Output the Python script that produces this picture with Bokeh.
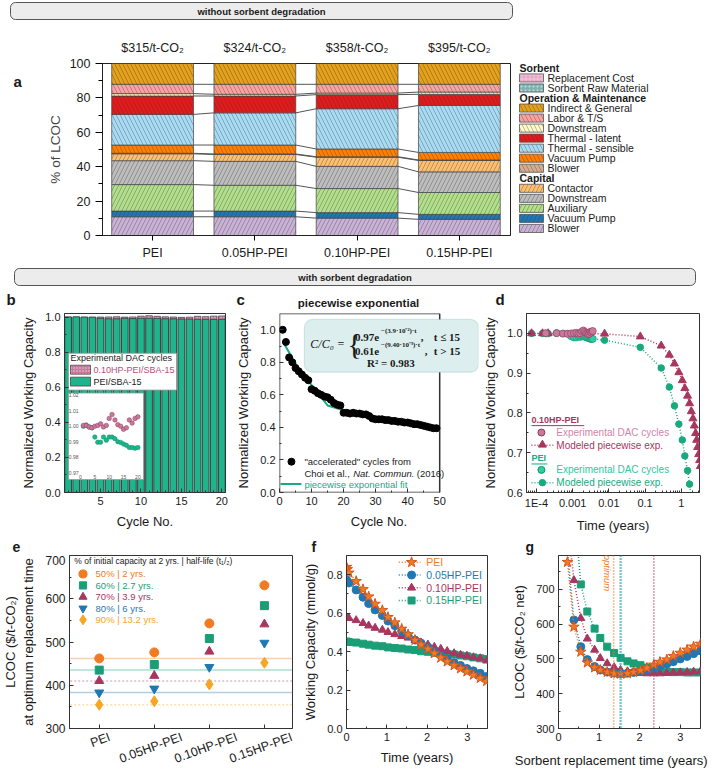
import numpy as np
from bokeh.plotting import figure
from bokeh.models import (Range1d, LinearScale, Label, FixedTicker, LinearAxis,
                          BoxAnnotation, Span, ColumnDataSource, PrintfTickFormatter)
from bokeh.layouts import column, row
from bokeh.embed import file_html
from bokeh.resources import INLINE
from bokeh.transform import stack

FONT = "Liberation Sans"
SERIF = "Liberation Serif"
INK = "#1a1a1a"

# ---------------------------------------------------------------- data
sorbents = ["PEI", "0.05HP-PEI", "0.10HP-PEI", "0.15HP-PEI"]
lcoc_no_degradation = [315, 324, 358, 395]

# panel a: % of LCOC (bottom -> top)
cap_blower = [10.9, 10.9, 10.1, 9.4]
cap_vacuum = [3.3, 3.3, 3.2, 2.9]
cap_auxiliary = [15.4, 15.0, 14.0, 12.7]
cap_downstream = [13.9, 13.9, 12.9, 12.0]
cap_contactor = [4.0, 4.0, 5.3, 6.6]
om_blower = [0.3, 0.3, 0.3, 0.3]
om_vacuum = [4.8, 5.2, 4.5, 4.4]
om_thermal_sensible = [17.8, 18.7, 23.4, 27.3]
om_thermal_latent = [10.7, 9.8, 8.2, 6.5]
om_downstream = [1.4, 1.0, 0.9, 1.3]
om_labor = [5.4, 5.8, 5.1, 4.5]
om_indirect = [12.1, 12.1, 12.1, 12.1]
sorbent_raw = [0.0, 0.0, 0.0, 0.0]
sorbent_replacement = [0.0, 0.0, 0.0, 0.0]

# panel b / inset: normalized working capacity over 20 DAC cycles
cycles = [1, 2, 3, 4, 5, 6, 7, 8, 9, 10, 11, 12, 13, 14, 15, 16, 17, 18, 19, 20]
cap_pei = [1.000, 1.0008, 0.9995, 0.999, 0.993, 0.9897, 0.9897, 0.993, 0.991, 0.993,
           0.993, 0.992, 0.990, 0.9896, 0.9885, 0.9877, 0.9863, 0.9863, 0.9859, 0.9863]
cap_hp10 = [1.0005, 1.0005, 0.9995, 0.999, 1.000, 1.0005, 1.0015, 0.9995, 1.0005, 1.005,
            1.0075, 1.004, 1.001, 1.000, 0.998, 0.999, 1.004, 1.002, 1.005, 1.006]

# panel c: accelerated cycles (Choi et al.) and piecewise exponential fit
acc_cycle = list(range(1, 50))
acc_cap = [1.0, 0.925, 0.83, 0.80, 0.765, 0.745, 0.725, 0.705, 0.69, 0.635,
           0.625, 0.61, 0.60, 0.59, 0.585, 0.57, 0.55, 0.54, 0.535, 0.49,
           0.49, 0.485, 0.49, 0.485, 0.485, 0.48, 0.48, 0.47, 0.455, 0.45,
           0.45, 0.45, 0.445, 0.445, 0.44, 0.44, 0.435, 0.435, 0.43, 0.43,
           0.425, 0.42, 0.42, 0.415, 0.41, 0.405, 0.40, 0.395, 0.395]
fit_cycle = [1, 3, 5, 8, 10, 12, 15, 20, 30, 40, 50]
fit_cap = [0.93, 0.86, 0.79, 0.71, 0.66, 0.61, 0.535, 0.505, 0.46, 0.42, 0.38]

# panel d: time axis (years)
exp_time = [0.00018, 0.00036, 0.00054, 0.00072, 0.0009, 0.00108, 0.00126, 0.00144, 0.00162, 0.0018,
            0.00198, 0.00216, 0.00234, 0.00252, 0.0027, 0.00288, 0.00306, 0.00324, 0.00342, 0.0036]
mod_time_hp = [7.3e-5, 1.47e-4, 2.1e-4, 0.0076, 0.074, 0.28, 0.47, 0.65, 0.86, 1.07, 1.26,
               1.5, 1.70, 1.90, 2.11, 2.30, 2.50, 2.67, 2.84, 3.03, 3.23, 3.37]
mod_cap_hp = [1.0, 1.0, 1.0, 0.999, 0.992, 0.969, 0.946, 0.924, 0.902, 0.882, 0.862,
              0.843, 0.824, 0.804, 0.786, 0.768, 0.749, 0.732, 0.714, 0.696, 0.681, 0.666]
mod_time_pei = [7.3e-5, 1.47e-4, 2.1e-4, 0.0076, 0.074, 0.28, 0.47, 0.65, 0.86, 1.07, 1.26, 1.5, 1.70, 1.90]
mod_cap_pei = [1.0, 1.0, 0.9995, 0.983, 0.965, 0.913, 0.865, 0.818, 0.772, 0.732, 0.692, 0.655, 0.621, 0.586]

# panel e: LCOC at optimum replacement time
lcoc_50 = [462, 476, 543, 631]
lcoc_60 = [435, 448, 508, 584]
lcoc_70 = [410, 422, 478, 541]
lcoc_80 = [383, 392, 442, 498]
lcoc_90 = [355, 363, 402, 452]

# panel f: working capacity vs time
time_f = [0.0, 0.02, 0.06, 0.24, 0.41, 0.55, 0.71, 0.89, 1.03, 1.2, 1.37, 1.53,
          1.7, 1.85, 2.02, 2.18, 2.34, 2.5, 2.67, 2.83, 2.99, 3.15, 3.32, 3.48]
wc_pei = [0.84, 0.828, 0.81, 0.766, 0.724, 0.686, 0.648, 0.615, 0.579, 0.551, 0.518, 0.489,
          0.46, 0.436, 0.414, 0.391, 0.368, 0.348, 0.328, 0.312, 0.296, 0.279, 0.262, 0.246]
wc_hp05 = [0.774, 0.765, 0.757, 0.721, 0.683, 0.65, 0.617, 0.588, 0.559, 0.535, 0.506, 0.483,
           0.46, 0.444, 0.424, 0.40, 0.381, 0.361, 0.342, 0.328, 0.312, 0.30, 0.287, 0.271]
wc_hp10 = [0.579, 0.577, 0.574, 0.563, 0.548, 0.535, 0.523, 0.513, 0.501, 0.49, 0.48, 0.472,
           0.46, 0.447, 0.436, 0.424, 0.414, 0.402, 0.391, 0.383, 0.378, 0.37, 0.365, 0.353]
wc_hp15 = [0.452, 0.451, 0.45, 0.447, 0.441, 0.436, 0.431, 0.428, 0.422, 0.419, 0.416, 0.411,
           0.408, 0.402, 0.399, 0.394, 0.391, 0.388, 0.385, 0.38, 0.376, 0.37, 0.365, 0.361]

# panel g: LCOC vs sorbent replacement time
time_g = [0.22, 0.38, 0.55, 0.71, 0.89, 1.03, 1.2, 1.37, 1.53, 1.7, 1.85,
          2.02, 2.18, 2.35, 2.5, 2.67, 2.83, 3.0, 3.17, 3.33, 3.5]
lc_pei = [778, 592, 520, 489, 475, 468, 462, 458, 457, 458, 462,
          467, 474, 483, 491, 498, 508, 517, 526, 535, 543]
lc_hp05 = [810, 612, 535, 498, 478, 468, 462, 459, 458, 459, 461,
           464, 468, 473, 479, 485, 492, 500, 507, 515, 523]
lc_hp10 = [900, 726, 617, 558, 526, 502, 487, 476, 468, 464, 461,
           459, 458, 458, 458, 459, 460, 461, 462, 463, 464]
lc_hp15 = [1300, 950, 714, 636, 587, 560, 535, 517, 503, 493, 487,
           482, 475, 468, 465, 463, 462, 462, 461, 461, 461]
optimum_time = [1.36, 1.52, 2.35, 1.55]

# ---------------------------------------------------------------- colours
C_OR, C_BL, C_PU, C_GR, C_GO = "#f07b22", "#1f78b4", "#a8365f", "#1a9e77", "#f5a623"
GREEN_B, PINK_B = "#1fb48c", "#c8799b"

layers = [
    ("cap_blower", cap_blower, "#cab2d6", "/"),
    ("cap_vacuum", cap_vacuum, "#1f78b4", "/"),
    ("cap_auxiliary", cap_auxiliary, "#b2df8a", "/"),
    ("cap_downstream", cap_downstream, "#bdbdbd", "/"),
    ("cap_contactor", cap_contactor, "#fdbf6f", "/"),
    ("om_blower", om_blower, "#d8ab8c", "\\"),
    ("om_vacuum", om_vacuum, "#ff7f00", "\\"),
    ("om_thermal_sensible", om_thermal_sensible, "#a8dcf5", "\\"),
    ("om_thermal_latent", om_thermal_latent, "#e31a1c", "\\"),
    ("om_downstream", om_downstream, "#fdfac5", "\\"),
    ("om_labor", om_labor, "#f9a3a0", "\\"),
    ("om_indirect", om_indirect, "#e5a11a", "\\"),
    ("sorbent_raw", sorbent_raw, "#7fb2b2", "."),
    ("sorbent_replacement", sorbent_replacement, "#e8a6c6", "+"),
]
layer_color = {n: c for n, _, c, _ in layers}
layer_hatch = {n: h for n, _, _, h in layers}


# ---------------------------------------------------------------- helpers
def make_fig(X0, Y0, W, H, fl, ft, fw, fh, xr, yr, x_axis_type="linear"):
    p = figure(width=W, height=H, x_range=xr, y_range=yr, x_axis_type=x_axis_type,
               output_backend="svg", toolbar_location=None, title=None,
               min_border_left=fl, min_border_right=W - fl - fw,
               min_border_top=ft, min_border_bottom=H - ft - fh)
    p.extra_x_ranges = {"px": Range1d(X0 + fl, X0 + fl + fw)}
    p.extra_y_ranges = {"px": Range1d(Y0 + ft + fh, Y0 + ft)}
    p.extra_x_scales = {"px": LinearScale()}
    p.extra_y_scales = {"px": LinearScale()}
    p.xgrid.visible = False
    p.ygrid.visible = False
    p.outline_line_color = "#333333"
    p.outline_line_width = 1
    p.border_fill_color = "white"
    return p


def plain_fig(W, H, xr, yr):
    p = figure(width=W, height=H, x_range=xr, y_range=yr, output_backend="svg",
               toolbar_location=None, title=None, min_border=0,
               x_axis_location=None, y_axis_location=None)
    p.xgrid.visible = False
    p.ygrid.visible = False
    p.outline_line_color = None
    return p


def lab(p, x, y, text, size=11, color=INK, style="normal", align="left",
        baseline="middle", angle=0.0, font=FONT, xr="px", yr="px"):
    kw = dict(x=x, y=y, text=text, text_font=font, text_font_size=f"{size}px",
              text_color=color, text_font_style=style, text_align=align,
              text_baseline=baseline, angle=angle)
    if xr:
        kw["x_range_name"] = xr
    if yr:
        kw["y_range_name"] = yr
    p.add_layout(Label(**kw))


def style_axes(p, xlabel, ylabel, xticks, yticks, xminor=(), yminor=(), lab_size=11):
    p.xaxis.ticker = FixedTicker(ticks=list(xticks), minor_ticks=list(xminor))
    p.yaxis.ticker = FixedTicker(ticks=list(yticks), minor_ticks=list(yminor))
    for ax in (p.xaxis[0], p.yaxis[0]):
        ax.major_label_text_font = FONT
        ax.major_label_text_font_size = f"{lab_size}px"
        ax.major_label_text_color = INK
        ax.axis_label_text_font = FONT
        ax.axis_label_text_font_size = "13px"
        ax.axis_label_text_font_style = "normal"
        ax.axis_label_text_color = INK
        ax.major_tick_in = 4
        ax.major_tick_out = 0
        ax.minor_tick_in = 2
        ax.minor_tick_out = 0
        ax.axis_line_color = "#333333"
        ax.major_tick_line_color = "#333333"
        ax.minor_tick_line_color = "#333333"
        ax.major_label_standoff = 4
        ax.axis_label_standoff = 6
    p.xaxis.axis_label = xlabel
    p.yaxis.axis_label = ylabel


def letter(p, x, y, t, size=15):
    lab(p, x, y, t, size=size, style="bold", xr=None, yr=None)


# ---------------------------------------------------------------- banners / strips
def banner(y0, y1, ytop, ybot, x0, x1, text):
    p = plain_fig(711, 28, Range1d(0, 711), Range1d(ybot, ytop))
    p.quad(left=x0, right=x1, top=y0, bottom=y1, fill_color="#ececec",
           line_color="#555555", line_width=1, border_radius=5)
    lab(p, (x0 + x1) / 2, (y0 + y1) / 2 + 0.5, text, size=9.5, style="bold",
        align="center", xr=None, yr=None)
    return p


ban1 = banner(2, 19, 0, 28, 10, 512, "without sorbent degradation")
ban2 = banner(268, 285, 262, 290, 14, 695, "with sorbent degradation")

strip_a = plain_fig(30, 234, Range1d(0, 30), Range1d(262, 28))
letter(strip_a, 13, 52, "a")

strip_bcd = plain_fig(711, 19, Range1d(0, 711), Range1d(309, 290))
letter(strip_bcd, 6, 299, "b")
letter(strip_bcd, 236, 299, "c")
letter(strip_bcd, 495, 299, "d")
lab(strip_bcd, 358, 302, "piecewise exponential", size=11.5, style="bold", align="center",
    xr=None, yr=None)

strip_efg = plain_fig(711, 18, Range1d(0, 711), Range1d(555, 537))
letter(strip_efg, 12, 546, "e", size=14)
letter(strip_efg, 311, 546, "f", size=14)
letter(strip_efg, 525, 546, "g", size=14)

# ---------------------------------------------------------------- panel a
A = make_fig(30, 28, 485, 234, 72, 35, 408, 172, Range1d(-0.49, 3.5), Range1d(0, 100))
A.outline_line_color = "#222222"
xpos = [0, 1, 2, 3]
srcA = ColumnDataSource(dict(x=xpos, **{n: v for n, v, _, _ in layers}))
names = [n for n, _, _, _ in layers]
for i, (n, vals, col, hat) in enumerate(layers):
    if sum(vals) == 0:
        continue
    bottom = stack(*names[:i]) if i > 0 else 0
    A.vbar(x="x", width=0.8, bottom=bottom, top=stack(*names[:i + 1]), source=srcA,
           fill_color=col, line_color="#444444", line_width=0.7,
           hatch_pattern=hat, hatch_color="#333333", hatch_alpha=0.55,
           hatch_scale=8, hatch_weight=0.6)
cum = np.cumsum(np.array([v for _, v, _, _ in layers]), axis=0)
sx0, sx1, sy0, sy1 = [], [], [], []
for k in range(11):
    for i in range(3):
        sx0.append(xpos[i] + 0.4)
        sx1.append(xpos[i + 1] - 0.4)
        sy0.append(cum[k, i])
        sy1.append(cum[k, i + 1])
A.segment(x0=sx0, x1=sx1, y0=sy0, y1=sy1, line_color="#555555", line_width=1)

A.yaxis.ticker = FixedTicker(ticks=[0, 20, 40, 60, 80, 100], minor_ticks=[10, 30, 50, 70, 90])
A.xaxis.ticker = FixedTicker(ticks=xpos)
A.xaxis.major_label_overrides = {i: s for i, s in zip(xpos, sorbents)}
for ax in (A.xaxis[0], A.yaxis[0]):
    ax.major_label_text_font = FONT
    ax.major_label_text_font_size = "12.5px"
    ax.major_label_text_color = INK
    ax.axis_label_text_font = FONT
    ax.axis_label_text_font_size = "13.5px"
    ax.axis_label_text_font_style = "normal"
    ax.axis_line_color = "#222222"
    ax.major_tick_in = 0
    ax.minor_tick_in = 0
A.yaxis.major_tick_out = 7
A.yaxis.minor_tick_out = 4
A.xaxis.major_tick_out = 5
A.yaxis.major_label_standoff = 5
A.xaxis.major_label_standoff = 5
A.yaxis.axis_label = "% of LCOC"
A.yaxis.axis_label_standoff = 4
top_axis = LinearAxis(ticker=FixedTicker(ticks=xpos),
                      major_label_overrides={i: f"${v}/t-CO₂" for i, v in zip(xpos, lcoc_no_degradation)},
                      major_tick_line_color=None, minor_tick_line_color=None,
                      axis_line_color=None, major_label_standoff=3,
                      major_label_text_font=FONT, major_label_text_font_size="12.5px",
                      major_label_text_color=INK)
A.add_layout(top_axis, "above")

# legend for panel a
LEG = plain_fig(196, 234, Range1d(515, 711), Range1d(262, 28))
leg_rows = [
    ("head", "Sorbent", None),
    ("item", "Replacement Cost", "sorbent_replacement"),
    ("item", "Sorbent Raw Material", "sorbent_raw"),
    ("head", "Operation & Maintenance", None),
    ("item", "Indirect & General", "om_indirect"),
    ("item", "Labor & T/S", "om_labor"),
    ("item", "Downstream", "om_downstream"),
    ("item", "Thermal - latent", "om_thermal_latent"),
    ("item", "Thermal - sensible", "om_thermal_sensible"),
    ("item", "Vacuum Pump", "om_vacuum"),
    ("item", "Blower", "om_blower"),
    ("head", "Capital", None),
    ("item", "Contactor", "cap_contactor"),
    ("item", "Downstream", "cap_downstream"),
    ("item", "Auxiliary", "cap_auxiliary"),
    ("item", "Vacuum Pump", "cap_vacuum"),
    ("item", "Blower", "cap_blower"),
]
for k, (kind, text, key) in enumerate(leg_rows):
    yy = 34 + 13.65 * k
    if kind == "head":
        lab(LEG, 519, yy, text, size=10.5, style="bold", xr=None, yr=None)
    else:
        hat = layer_hatch[key]
        LEG.quad(left=519, right=543, top=yy - 5.5, bottom=yy + 5.5,
                 fill_color=layer_color[key], line_color="#555555", line_width=0.8,
                 hatch_pattern=hat, hatch_color="#333333" if hat in "/\\" else "#ffffff",
                 hatch_alpha=0.55, hatch_scale=8 if hat in "/\\" else 4, hatch_weight=0.6)
        lab(LEG, 547, yy, text, size=10.5, xr=None, yr=None)

ONE_DEC = PrintfTickFormatter(format="%.1f")

# ---------------------------------------------------------------- panel b
B = make_fig(0, 309, 233, 228, 64, 4, 161, 180, Range1d(0.55, 20.45), Range1d(0, 1.02))
B.vbar(x=cycles, top=cap_hp10, width=0.82, fill_color=PINK_B, line_color="#222222",
       line_width=0.6, hatch_pattern=".", hatch_color="#f2d0de", hatch_scale=3)
B.vbar(x=cycles, top=cap_pei, width=0.82, fill_color=GREEN_B, line_color="#222222", line_width=0.6)
style_axes(B, "Cycle No.", "Normalized Working Capacity", [5, 10, 15, 20],
           [0, 0.2, 0.4, 0.6, 0.8, 1.0], xminor=range(1, 21), yminor=[0.1, 0.3, 0.5, 0.7, 0.9])
B.yaxis.formatter = PrintfTickFormatter(format="%.1f")


def lin_range(p0, v0, p1, v1, q0, q1):
    s = (v1 - v0) / (p1 - p0)
    return Range1d(v0 + (q0 - p0) * s, v0 + (q1 - p0) * s)


B.extra_x_ranges = {**B.extra_x_ranges, "ix": lin_range(79, -0.35, 143, 21.95, 64, 225)}
B.extra_y_ranges = {**B.extra_y_ranges, "iy": lin_range(395, 1.02, 473.3, 0.97, 493, 313)}
B.extra_x_scales = {**B.extra_x_scales, "ix": LinearScale()}
B.extra_y_scales = {**B.extra_y_scales, "iy": LinearScale()}
# inset
B.quad(left=68, right=143, top=393, bottom=480, fill_color="white", line_color="#999999",
       line_width=0.8, x_range_name="px", y_range_name="px")
for v in [0.97, 0.98, 0.99, 1.00, 1.01, 1.02]:
    lab(B, 78, v, f"{v:.2f}", size=5, color="#555555", align="right", yr="iy")
for v in [0, 5, 10, 15, 20]:
    lab(B, v, 477, str(v), size=5, color="#555555", align="center", xr="ix")
B.scatter(x=cycles, y=cap_pei, size=4.5, fill_color=GREEN_B, line_color="#13906d",
          line_width=0.5, x_range_name="ix", y_range_name="iy")
B.scatter(x=cycles, y=cap_hp10, size=4.5, fill_color=PINK_B, line_color="#8e3a5e",
          line_width=0.5, x_range_name="ix", y_range_name="iy")
# legend box
B.quad(left=68, right=176, top=353, bottom=390, fill_color="white", line_color="#999999",
       line_width=0.8, x_range_name="px", y_range_name="px")
lab(B, 70, 358, "Experimental DAC cycles", size=9)
B.quad(left=70, right=90, top=365, bottom=374, fill_color=PINK_B, line_color="#222222",
       line_width=0.6, hatch_pattern=".", hatch_color="#f2d0de", hatch_scale=3,
       x_range_name="px", y_range_name="px")
lab(B, 93, 369.5, "0.10HP-PEI/SBA-15", size=9, color="#b4507a")
B.quad(left=70, right=90, top=377, bottom=386, fill_color=GREEN_B, line_color="#222222",
       line_width=0.6, x_range_name="px", y_range_name="px")
lab(B, 93, 381.5, "PEI/SBA-15", size=9)

# ---------------------------------------------------------------- panel c
# frame is widened to x=478 so that the equation box may overhang the axes box
C = make_fig(233, 309, 247, 228, 45, 4, 200, 180, Range1d(0, 62.11), Range1d(0, 1.1))
C.outline_line_color = None
C.quad(left=0, right=50, bottom=0, top=1.1, fill_color=None, line_color="#333333", line_width=1.5)
C.line(x=fit_cycle, y=fit_cap, line_color="#1aa88a", line_width=2)
C.scatter(x=acc_cycle, y=acc_cap, size=7, fill_color="black", line_color="black")
style_axes(C, "Cycle No.", "Normalized Working Capacity", [0, 10, 20, 30, 40, 50],
           [0, 0.2, 0.4, 0.6, 0.8, 1.0], xminor=[5, 15, 25, 35, 45], yminor=[0.1, 0.3, 0.5, 0.7, 0.9])
C.yaxis.formatter = PrintfTickFormatter(format="%.1f")
C.xaxis.axis_line_color = None
C.yaxis.axis_line_color = None
C.add_layout(BoxAnnotation(left=303, right=478, top=319, bottom=372, x_range_name="px",
                           y_range_name="px", fill_color="#dcefee", fill_alpha=1,
                           line_color="#7fb8b5", line_width=1.2, border_radius=8))
lab(C, 309, 344, "C/C₀ =", size=12, style="italic", font=SERIF)
lab(C, 346, 343, "{", size=30, font=SERIF)
lab(C, 354, 337, "0.97e", size=11, style="bold", font=SERIF)
lab(C, 380, 331, "−(3.9·10⁻²)·t", size=7, style="bold", font=SERIF)
lab(C, 420, 337, ",", size=11, style="bold", font=SERIF)
lab(C, 433, 337, "t ≤ 15", size=11, style="bold", font=SERIF)
lab(C, 354, 351, "0.61e", size=11, style="bold", font=SERIF)
lab(C, 380, 345, "−(9.40·10⁻³)·t", size=7, style="bold", font=SERIF)
lab(C, 424, 351, ",", size=11, style="bold", font=SERIF)
lab(C, 433, 351, "t > 15", size=11, style="bold", font=SERIF)
lab(C, 390, 363, "R² = 0.983", size=11, style="bold", font=SERIF, align="center")
C.scatter(x=[290], y=[462], size=7, fill_color="black", line_color="black",
          x_range_name="px", y_range_name="px")
lab(C, 303, 462, "\"accelerated\" cycles from", size=9.5)
lab(C, 303, 473.5, "Choi et al.,", size=9.5)
lab(C, 352, 473.5, "Nat. Commun.", size=9.5, style="italic")
lab(C, 416, 473.5, "(2016)", size=9.5)
C.line(x=[279, 300], y=[484.5, 484.5], line_color="#1aa88a", line_width=2,
       x_range_name="px", y_range_name="px")
lab(C, 303, 484.5, "piecewise exponential fit", size=9.5, color="#1aa88a")

# ---------------------------------------------------------------- panel d
D = make_fig(480, 309, 231, 228, 45, 1, 174, 182, Range1d(5.3e-5, 3.2), Range1d(0.6, 1.05),
             x_axis_type="log")
D.line(x=mod_time_pei, y=mod_cap_pei, line_color="#1aa87f", line_width=1.5, line_dash="1 2")
D.scatter(x=mod_time_pei, y=mod_cap_pei, size=6.5, fill_color="#1aa87f", line_color="#1aa87f")
D.line(x=mod_time_hp, y=mod_cap_hp, line_color=C_PU, line_width=1.5, line_dash="1 2")
D.scatter(x=mod_time_hp, y=mod_cap_hp, marker="triangle", size=8, fill_color=C_PU, line_color=C_PU)
D.scatter(x=exp_time, y=cap_pei, size=7, fill_color="#2ccfa4", line_color="#13906d", line_width=0.6)
D.scatter(x=exp_time, y=cap_hp10, size=7, fill_color="#c97a9c", line_color="#8e3a5e", line_width=0.6)
dminor = [m * 10.0 ** e for e in range(-5, 1) for m in range(2, 10)]
style_axes(D, "Time (years)", "Normalized Working Capacity", [1e-4, 1e-3, 1e-2, 1e-1, 1],
           [0.6, 0.7, 0.8, 0.9, 1.0], xminor=dminor, yminor=[0.65, 0.75, 0.85, 0.95, 1.05])
D.yaxis.formatter = PrintfTickFormatter(format="%.1f")
D.xaxis.major_label_overrides = {1e-4: "1E-4", 1e-3: "0.001", 1e-2: "0.01", 1e-1: "0.1", 1: "1"}
lab(D, 530, 418, "0.10HP-PEI", size=9, style="bold", color=C_PU)
D.line(x=[530, 583], y=[424, 424], line_color=C_PU, line_width=1, x_range_name="px", y_range_name="px")
D.scatter(x=[540], y=[431], size=7, fill_color="#c97a9c", line_color="#8e3a5e",
          x_range_name="px", y_range_name="px")
lab(D, 555, 431, "Experimental DAC cycles", size=10, color="#d385a8")
D.line(x=[530, 552], y=[444, 444], line_color=C_PU, line_width=1.5, line_dash="1 2",
       x_range_name="px", y_range_name="px")
D.scatter(x=[541], y=[443.5], marker="triangle", size=8, fill_color=C_PU, line_color=C_PU,
          x_range_name="px", y_range_name="px")
lab(D, 555, 444, "Modeled piecewise exp.", size=10, color=C_PU)
lab(D, 530, 457, "PEI", size=9, style="bold", color="#1aa87f")
D.line(x=[530, 546], y=[463, 463], line_color="#1aa87f", line_width=1, x_range_name="px", y_range_name="px")
D.scatter(x=[540], y=[469], size=7, fill_color="#2ccfa4", line_color="#13906d",
          x_range_name="px", y_range_name="px")
lab(D, 555, 469, "Experimental DAC cycles", size=10, color="#2cc9a0")
D.line(x=[530, 552], y=[482, 482], line_color="#1aa87f", line_width=1.5, line_dash="1 2",
       x_range_name="px", y_range_name="px")
D.scatter(x=[541], y=[482], size=6.5, fill_color="#1aa87f", line_color="#1aa87f",
          x_range_name="px", y_range_name="px")
lab(D, 555, 482, "Modeled piecewise exp.", size=10, color="#1aa87f")

# ---------------------------------------------------------------- panel e
E = make_fig(0, 555, 300, 220, 61, 0, 231, 178, Range1d(-0.54, 3.51), Range1d(300, 700))
series_e = [
    (lcoc_50, "50% | 2 yrs.", C_OR, "circle", 9, "solid"),
    (lcoc_60, "60% | 2.7 yrs.", C_GR, "square", 8, "solid"),
    (lcoc_70, "70% | 3.9 yrs.", C_PU, "triangle", 9, "2 2"),
    (lcoc_80, "80% | 6 yrs.", C_BL, "inverted_triangle", 9, "solid"),
    (lcoc_90, "90% | 13.2 yrs.", C_GO, "diamond", 11, "2 2"),
]
for vals, _, colr, _, _, dash in series_e:
    E.segment(x0=-0.6, x1=3.6, y0=vals[0], y1=vals[0], line_color=colr, line_alpha=0.35,
              line_width=1.5, line_dash=dash)
for vals, _, colr, mk, sz, _ in series_e:
    E.scatter(x=xpos, y=vals, marker=mk, size=sz, fill_color=colr, line_color=colr)
style_axes(E, "", "LCOC ($/t-CO₂)\nat optimum replacement time", xpos,
           [300, 400, 500, 600, 700], yminor=[350, 450, 550, 650])
E.xaxis.major_label_overrides = {i: "" for i in xpos}
E.xaxis.major_label_text_font_size = "1px"
E.xaxis.major_label_standoff = 0
E.xaxis.axis_label = None
E.yaxis.major_label_text_font_size = "12px"
# rotated category labels, centred under their ticks (shifted label axis)
E.extra_x_ranges = {**E.extra_x_ranges, "xl": Range1d(-0.54 - 0.5, 3.51 - 0.5)}
E.extra_x_scales = {**E.extra_x_scales, "xl": LinearScale()}
lab_ticks = [-0.31, 1, 2, 3]
E.add_layout(LinearAxis(x_range_name="xl", ticker=FixedTicker(ticks=lab_ticks),
                        major_label_overrides={t: s for t, s in zip(lab_ticks, sorbents)},
                        major_label_orientation=0.35, major_tick_line_color=None,
                        minor_tick_line_color=None, axis_line_color=None,
                        major_label_standoff=2, major_label_text_font=FONT,
                        major_label_text_font_size="12.5px", major_label_text_color=INK),
             "below")
lab(E, 66, 561, "% of initial capacity at 2 yrs. | half-life (t₁/₂)", size=8.5)
for k, (vals, text, colr, mk, sz, _) in enumerate(series_e):
    yy = 574 + 11.8 * k
    E.scatter(x=[75], y=[yy], marker=mk, size=sz * 0.9, fill_color=colr, line_color=colr,
              x_range_name="px", y_range_name="px")
    lab(E, 88, yy, text, size=9.5, color=colr)

# ---------------------------------------------------------------- panel f
F = make_fig(300, 555, 200, 220, 44, 0, 143, 178, Range1d(0, 3.5), Range1d(0, 0.9))
series_f = [
    (wc_pei, "PEI", C_OR, "star", 11),
    (wc_hp05, "0.05HP-PEI", C_BL, "circle", 8),
    (wc_hp10, "0.10HP-PEI", C_PU, "triangle", 8),
    (wc_hp15, "0.15HP-PEI", C_GR, "square", 7),
]
for vals, _, colr, mk, sz in reversed(series_f):
    F.line(x=time_f, y=vals, line_color=colr, line_width=1.5, line_dash="1 2")
    F.scatter(x=time_f, y=vals, marker=mk, size=sz, fill_color=colr,
              line_color="#d9531e" if mk == "star" else colr)
style_axes(F, "Time (years)", "Working Capacity (mmol/g)", [0, 1, 2, 3],
           [0, 0.2, 0.4, 0.6, 0.8], xminor=[0.5, 1.5, 2.5], yminor=[0.1, 0.3, 0.5, 0.7])
F.yaxis.formatter = PrintfTickFormatter(format="%.1f")
for k, (vals, text, colr, mk, sz) in enumerate(series_f):
    yy = 562 + 13.1 * k
    F.line(x=[397, 419], y=[yy, yy], line_color=colr, line_width=1.5, line_dash="1 2",
           x_range_name="px", y_range_name="px")
    F.scatter(x=[410], y=[yy], marker=mk, size=sz, fill_color=colr,
              line_color="#d9531e" if mk == "star" else colr, x_range_name="px", y_range_name="px")
    lab(F, 425, yy, text, size=10.5, color=colr)

# ---------------------------------------------------------------- panel g
G = make_fig(500, 555, 211, 220, 58, 0, 142, 178, Range1d(0, 3.5), Range1d(300, 797))
series_g = [
    (lc_hp15, C_GR, "square", 7),
    (lc_hp10, C_PU, "triangle", 8),
    (lc_hp05, C_BL, "circle", 8),
    (lc_pei, C_OR, "star", 11),
]
opt_colors = [C_OR, C_BL, C_PU, "#1fb0a0"]
for t, colr in zip(optimum_time, opt_colors):
    G.add_layout(Span(location=t, dimension="height", line_color=colr, line_width=1.5,
                      line_dash="1 2"))
for vals, colr, mk, sz in series_g:
    G.line(x=time_g, y=vals, line_color=colr, line_width=1.5, line_dash="1 2")
    G.scatter(x=time_g, y=vals, marker=mk, size=sz, fill_color=colr,
              line_color="#d9531e" if mk == "star" else colr)
style_axes(G, "", "LCOC ($/t-CO₂ net)", [0, 1, 2, 3],
           [300, 400, 500, 600, 700], xminor=[0.5, 1.5, 2.5], yminor=[350, 450, 550, 650, 750])
G.xaxis.axis_label = None
# x title shifted left of the frame centre, as in the original (single-tick label axis)
g_title_pos = 1.3
G.add_layout(LinearAxis(ticker=FixedTicker(ticks=[g_title_pos]),
                        major_label_overrides={g_title_pos: "Sorbent replacement time (years)"},
                        major_tick_line_color=None, minor_tick_line_color=None,
                        axis_line_color=None, major_label_standoff=3,
                        major_label_text_font=FONT, major_label_text_font_size="13px",
                        major_label_text_color=INK), "below")
lab(G, 607, 573, "optimum", size=9.5, style="italic", color=C_OR, align="center",
    angle=-np.pi / 2)

# ---------------------------------------------------------------- layout
page = column(
    ban1,
    row(strip_a, A, LEG),
    ban2,
    strip_bcd,
    row(B, C, D),
    strip_efg,
    row(E, F, G),
)
open("out.html", "w").write(file_html(page, INLINE))
